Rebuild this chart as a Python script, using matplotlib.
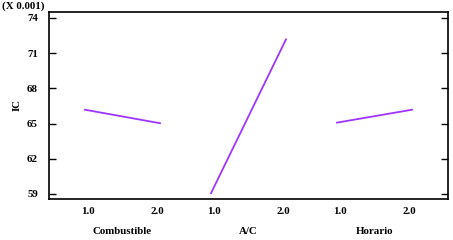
import matplotlib.pyplot as plt
import numpy as np

factors = ['Combustible', 'A/C', 'Horario']
levels = ['1.0', '2.0']
# IC means at low/high level of each factor
ic_low = [0.06618, 0.05906, 0.06508]
ic_high = [0.06503, 0.07218, 0.06618]
yticks = [59, 62, 65, 68, 71, 74]

plt.rcParams['font.family'] = ['Liberation Serif', 'DejaVu Serif']
plt.rcParams['font.weight'] = 'bold'

fig = plt.figure(figsize=(4.53, 2.40), dpi=100)
ax = fig.add_axes([49 / 453, 1 - 199 / 240, 399 / 453, 187 / 240])

step, width = 126, 75
xticks, xlabels = [], []
for i, f in enumerate(factors):
    x0 = i * step
    ax.plot([x0, x0 + width], [ic_low[i], ic_high[i]], color='#a035ff', lw=1.3)
    xticks += [x0 + 3, x0 + width - 3]
    xlabels += levels
    ax.text(x0 + width / 2, -0.175, f, transform=ax.get_xaxis_transform(),
            ha='center', va='center', fontsize=7.8, fontweight='bold')

ax.set_xlim(-36, 363)
ax.set_ylim(0.05857, 0.07451)
ax.set_xticks(xticks)
ax.set_xticklabels(xlabels, fontsize=7.8, fontweight='bold')
ax.tick_params(axis='x', length=0, pad=6)
ax.set_yticks([v / 1000 for v in yticks])
ax.set_yticklabels([str(v) for v in yticks], fontsize=7.8, fontweight='bold')
ax.tick_params(axis='y', direction='in', length=5, width=1, right=True, pad=8)
for s in ax.spines.values():
    s.set_linewidth(1.2)

fig.text(17 / 453, 1 - 105 / 240, 'IC', fontsize=7.8, fontweight='bold',
         rotation=90, va='center', ha='center')
fig.text(2 / 453, 1 - 6 / 240, '(X 0.001)', fontsize=7.8, fontweight='bold',
         va='center', ha='left')

fig.savefig('out.png', dpi=100)
